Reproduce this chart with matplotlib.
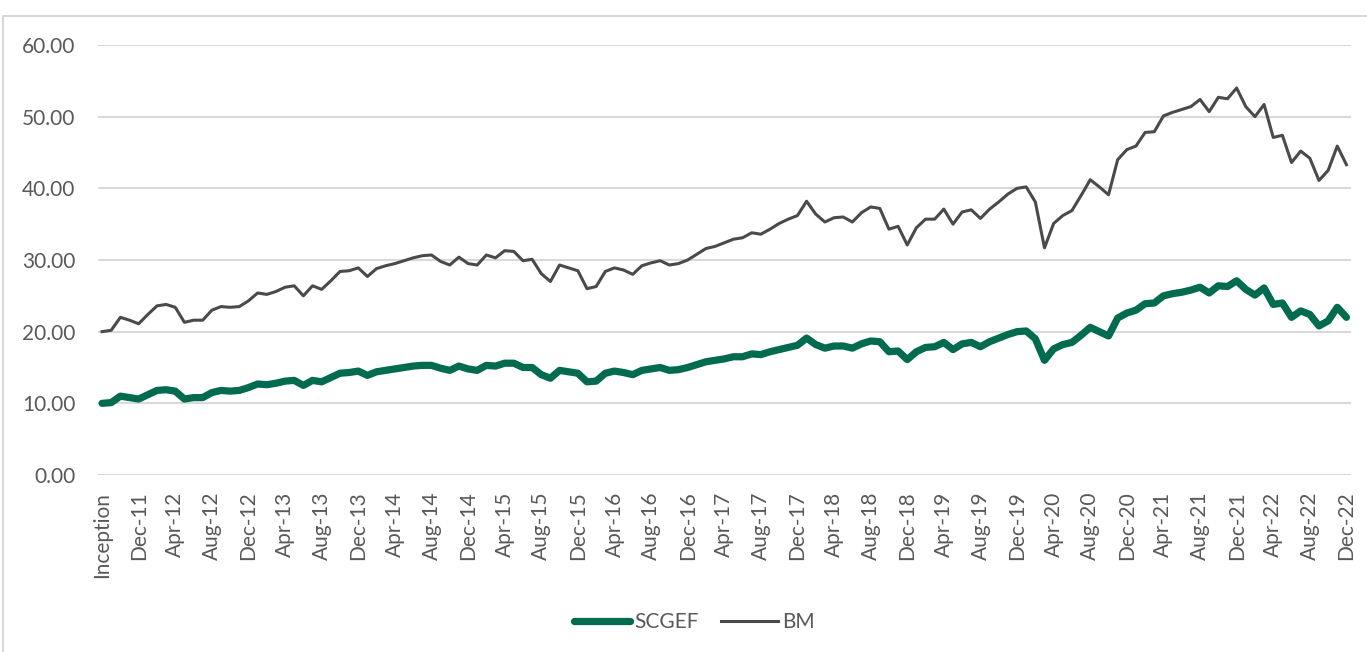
import matplotlib
matplotlib.use("Agg")
import matplotlib.pyplot as plt
from matplotlib.patches import Rectangle
from matplotlib.lines import Line2D

months = ["Aug", "Sep", "Oct", "Nov", "Dec", "Jan", "Feb", "Mar", "Apr", "May", "Jun", "Jul"]

bm = [20.0, 20.2, 22.0, 21.6, 21.1, 22.4, 23.6, 23.8, 23.4, 21.3,
      21.6, 21.6, 23.0, 23.5, 23.4, 23.5, 24.3, 25.4, 25.2, 25.6,
      26.2, 26.4, 25.0, 26.4, 25.9, 27.1, 28.4, 28.5, 28.9, 27.7,
      28.8, 29.2, 29.5, 29.9, 30.3, 30.6, 30.7, 29.8, 29.3, 30.4,
      29.5, 29.3, 30.7, 30.3, 31.3, 31.2, 29.9, 30.1, 28.1, 27.0,
      29.3, 28.9, 28.5, 26.0, 26.3, 28.4, 28.9, 28.6, 28.0, 29.2,
      29.6, 29.9, 29.3, 29.5, 30.0, 30.8, 31.6, 31.9, 32.4, 32.9,
      33.1, 33.8, 33.6, 34.3, 35.1, 35.7, 36.2, 38.2, 36.4, 35.3,
      35.9, 36.0, 35.3, 36.6, 37.4, 37.2, 34.3, 34.7, 32.1, 34.5,
      35.7, 35.7, 37.1, 35.0, 36.7, 37.0, 35.8, 37.1, 38.1, 39.2,
      40.0, 40.2, 38.1, 31.7, 35.1, 36.2, 36.9, 39.0, 41.2, 40.2,
      39.1, 44.0, 45.4, 45.9, 47.8, 47.9, 50.1, 50.6, 51.0, 51.4,
      52.4, 50.7, 52.7, 52.5, 54.0, 51.4, 50.0, 51.7, 47.1, 47.4,
      43.6, 45.2, 44.2, 41.1, 42.5, 45.9, 43.3]

scgef = [10.0, 10.1, 11.0, 10.8, 10.6, 11.2, 11.8, 11.9, 11.7, 10.6,
         10.8, 10.8, 11.5, 11.8, 11.7, 11.8, 12.2, 12.7, 12.6, 12.8,
         13.1, 13.2, 12.5, 13.2, 13.0, 13.6, 14.2, 14.3, 14.5, 13.9,
         14.4, 14.6, 14.8, 15.0, 15.2, 15.3, 15.3, 14.9, 14.6, 15.2,
         14.8, 14.6, 15.3, 15.2, 15.6, 15.6, 15.0, 15.0, 14.0, 13.5,
         14.6, 14.4, 14.2, 13.0, 13.1, 14.2, 14.5, 14.3, 14.0, 14.6,
         14.8, 15.0, 14.6, 14.7, 15.0, 15.4, 15.8, 16.0, 16.2, 16.5,
         16.5, 16.9, 16.8, 17.2, 17.5, 17.8, 18.1, 19.1, 18.2, 17.7,
         18.0, 18.0, 17.7, 18.3, 18.7, 18.6, 17.2, 17.3, 16.1, 17.2,
         17.8, 17.9, 18.5, 17.5, 18.3, 18.5, 17.9, 18.6, 19.1, 19.6,
         20.0, 20.1, 19.0, 16.0, 17.6, 18.2, 18.5, 19.5, 20.6, 20.0,
         19.4, 21.9, 22.6, 23.0, 23.9, 24.0, 25.0, 25.3, 25.5, 25.8,
         26.2, 25.4, 26.4, 26.3, 27.1, 25.9, 25.1, 26.1, 23.8, 24.0,
         22.0, 22.9, 22.4, 20.8, 21.5, 23.4, 22.0]

# category labels: Inception = Aug-11, monthly to Dec-22
categories = []
for k in range(len(bm)):
    if k == 0:
        categories.append("Inception")
    else:
        m = months[k % 12]
        yr = 11 + (k + 7) // 12
        categories.append(f"{m}-{yr:02d}")

yticks = [0, 10, 20, 30, 40, 50, 60]
ytick_labels = [f"{v:.2f}" for v in yticks]

GREEN = "#006B4F"
GRAY_LINE = "#4A4A4A"
TXT = "#595959"
GRID = "#D9D9D9"
FONT = ["Lato", "DejaVu Sans"]
FS = 15

W, H = 1367, 652
fig = plt.figure(figsize=(W / 100, H / 100), dpi=100)

# outer chart border (right/bottom edges run off the image)
fig.patches.append(Rectangle((3 / W, -0.05), 1.1, (H - 16) / H + 0.05,
                             transform=fig.transFigure, fill=False,
                             edgecolor="#D0D0D0", linewidth=1.2))

left, right = 97.5 / W, 1351 / W
bottom, top = (H - 475) / H, (H - 45) / H
ax = fig.add_axes([left, bottom, right - left, top - bottom])

x = list(range(len(bm)))
ax.plot(x, scgef, color=GREEN, linewidth=5.2, solid_joinstyle="round",
        solid_capstyle="round", zorder=3)
ax.plot(x, bm, color=GRAY_LINE, linewidth=2.2, solid_joinstyle="round", zorder=3)

ax.set_xlim(-0.5, len(bm) - 0.5)
ax.set_ylim(0, 60)
ax.set_yticks(yticks)
ax.set_yticklabels(ytick_labels, fontfamily=FONT, fontsize=FS, color=TXT)
ax.yaxis.grid(True, color=GRID, linewidth=1.5)
ax.set_axisbelow(True)

tick_pos = list(range(0, len(bm), 4))
ax.set_xticks(tick_pos)
ax.set_xticklabels([categories[i] for i in tick_pos], rotation=90,
                   fontfamily=FONT, fontsize=FS, color=TXT, va="top", ha="center")
ax.tick_params(axis="both", length=0)
ax.tick_params(axis="x", pad=12)
ax.tick_params(axis="y", pad=16)

for s in ["top", "right", "left", "bottom"]:
    ax.spines[s].set_visible(False)

handles = [Line2D([0], [0], color=GREEN, linewidth=5.2, solid_capstyle="round"),
           Line2D([0], [0], color=GRAY_LINE, linewidth=2.2)]
leg = fig.legend(handles, ["SCGEF", "BM"], loc="center",
                 bbox_to_anchor=(694 / W, 1 - 622 / H), ncol=2, frameon=False,
                 prop={"family": FONT, "size": FS}, handlelength=2.7,
                 handletextpad=0.2, columnspacing=1.1)
for t in leg.get_texts():
    t.set_color(TXT)

fig.savefig("out.png", dpi=100)
